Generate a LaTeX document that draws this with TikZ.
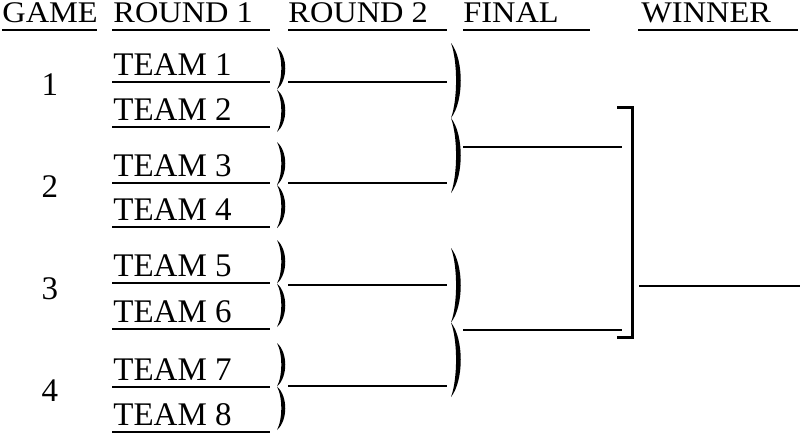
\documentclass[tikz,border=0pt]{standalone}
\usepackage{fontspec}
\setmainfont{Liberation Serif}
\newfontfamily\headfont{Liberation Serif}[FakeStretch=1.08]
\usetikzlibrary{positioning}

\begin{document}
\begin{tikzpicture}[%
    x=0.5pt,
    y=-0.5pt,
    every node/.style={%
      inner sep=0pt,
      font=\fontsize{16.5}{20}\selectfont
    },
    heading/.style={anchor=base west, font=\headfont\fontsize{15}{18}\selectfont},
    teamname/.style={anchor=base west},
    gamenum/.style={anchor=base},
    rule/.style={line width=0.8pt},
    bracket/.style={line width=1.5pt},
    pics/twoparen/.style 2 args={code={%
      \fill (0,0) .. controls (#2,0.22*#1) and (#2,0.78*#1) .. (0,#1)
        .. controls (0.52*#2,0.75*#1) and (0.52*#2,0.25*#1) .. (0,0);
      \fill (0,#1) .. controls (#2,1.22*#1) and (#2,1.78*#1) .. (0,2*#1)
        .. controls (0.52*#2,1.75*#1) and (0.52*#2,1.25*#1) .. (0,#1);
    }}
  ]
    \useasboundingbox (0,0) rectangle (800,434);

    % headings
    \node[heading] (game) at (2,22) {GAME};
    \node[heading] (round1) at (113,22) {ROUND 1};
    \node[heading] (round2) at (288,22) {ROUND 2};
    \node[heading] (final) at (463,22) {FINAL};
    \node[heading] (winner) at (641,22) {WINNER};
    \draw[rule] (2,30) -- (97,30);
    \draw[rule] (112,30) -- (270,30);
    \draw[rule] (288,30) -- (447,30);
    \draw[rule] (463,30) -- (590,30);
    \draw[rule] (638,30) -- (798,30);

    % round 1
    \foreach \y [count=\i] in {82,127,183,227,283,329,387,432}{
      \node[teamname] (team\i) at (113,\y-7) {TEAM \i};
      \draw[rule] (112,\y) coordinate (team\i-l) -- (270,\y) coordinate (team\i-r);
    }
    \foreach \y [count=\i] in {95,197,299,401}
      \node[gamenum] (game\i) at (50,\y) {\i};
    \foreach \y/\h in {47/42.5,142/43,240/43.5,343/43.5}
      \pic at (277,\y) {twoparen={\h}{11}};

    % round 2
    \foreach \y [count=\i] in {82,183,285,386}
      \draw[rule] (288,\y) coordinate (second\i-l) -- (447,\y) coordinate (second\i-r);
    \pic at (451,43) {twoparen={75}{13}};
    \pic at (451,248) {twoparen={74.5}{13}};

    % final and winner
    \draw[rule] (463,147) coordinate (final1-l) -- (622,147) coordinate (final1-r);
    \draw[rule] (463,330) coordinate (final2-l) -- (622,330) coordinate (final2-r);
    \draw[bracket] (617,107) -- (632,107) -- (632,337) -- (617,337);
    \draw[rule] (639,286) coordinate (champ-l) -- (800,286) coordinate (champ-r);
\end{tikzpicture}
\end{document}
